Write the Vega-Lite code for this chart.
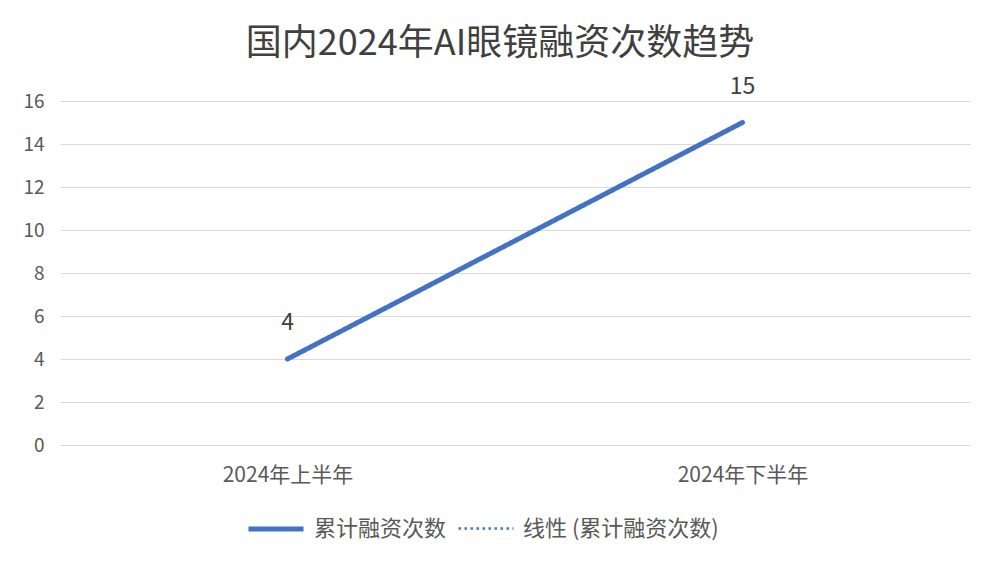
{
  "$schema": "https://vega.github.io/schema/vega-lite/v6.json",
  "autosize": {"type": "none"},
  "width": 910,
  "height": 344,
  "padding": {"left": 60, "top": 101, "right": 30, "bottom": 124},
  "background": "#ffffff",
  "config": {
    "font": "Noto Sans CJK SC",
    "view": {"stroke": null},
    "axis": {"labelFont": "Noto Sans CJK SC", "labelColor": "#595959"}
  },
  "title": {
    "text": "国内2024年AI眼镜融资次数趋势",
    "fontSize": 36,
    "fontWeight": "normal",
    "color": "#404040",
    "anchor": "middle",
    "offset": 13,
    "dx": -15
  },
  "data": {
    "values": [
      {"period": "2024年上半年", "value": 4, "series": "累计融资次数"},
      {"period": "2024年下半年", "value": 15, "series": "累计融资次数"},
      {"period": "2024年上半年", "value": 4, "series": "线性 (累计融资次数)"},
      {"period": "2024年下半年", "value": 15, "series": "线性 (累计融资次数)"}
    ]
  },
  "layer": [
    {
      "mark": {"type": "line", "strokeCap": "round"},
      "encoding": {
        "x": {
          "field": "period", "type": "ordinal", "sort": null,
          "scale": {"padding": 0.5},
          "axis": {"title": null, "labelAngle": 0, "domain": false, "ticks": false, "labelPadding": 19, "grid": false, "labelFontSize": 21}
        },
        "y": {
          "field": "value", "type": "quantitative",
          "scale": {"domain": [0, 16]},
          "axis": {"title": null, "values": [0, 2, 4, 6, 8, 10, 12, 14, 16], "domain": false, "ticks": false, "labelPadding": 16, "gridColor": "#d9d9d9", "gridWidth": 1.2, "labelFontSize": 19}
        },
        "color": {
          "field": "series", "type": "nominal", "sort": null,
          "scale": {"range": ["#4472C4", "#4472C4"]},
          "legend": {
            "title": null, "orient": "none", "direction": "horizontal",
            "legendX": 186, "legendY": 398,
            "symbolType": "stroke", "symbolSize": 3025,
            "labelFontSize": 22, "labelColor": "#595959", "labelFont": "Noto Sans CJK SC",
            "labelLimit": 400, "columnPadding": 6, "labelOffset": 8
          }
        },
        "strokeDash": {
          "field": "series", "type": "nominal", "sort": null,
          "scale": {"range": [[1, 0], [2.5, 3.5]]}
        },
        "strokeWidth": {
          "field": "series", "type": "nominal", "sort": null,
          "scale": {"range": [5, 2.5]}
        }
      }
    },
    {
      "transform": [{"filter": "datum.series === '累计融资次数'"}],
      "mark": {"type": "text", "dy": -36, "fontSize": 23, "color": "#404040"},
      "encoding": {
        "x": {"field": "period", "type": "ordinal", "sort": null},
        "y": {"field": "value", "type": "quantitative"},
        "text": {"field": "value", "type": "quantitative"}
      }
    }
  ]
}
